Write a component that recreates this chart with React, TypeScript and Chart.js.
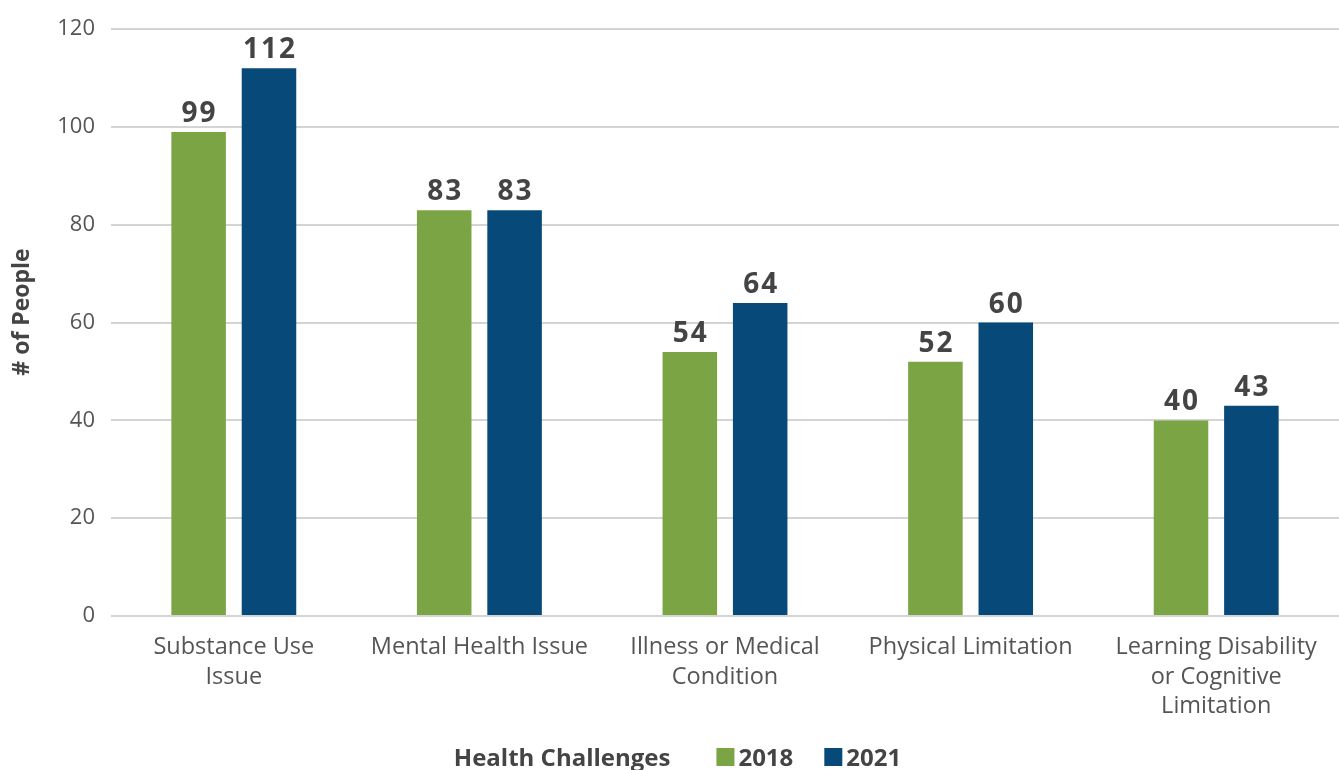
import React, { useEffect, useRef } from "react";
import { Chart, registerables } from "chart.js";

Chart.register(...registerables);

const categories: string[][] = [
  ["Substance Use", "Issue"],
  ["Mental Health Issue"],
  ["Illness or Medical", "Condition"],
  ["Physical Limitation"],
  ["Learning Disability", "or Cognitive", "Limitation"],
];
const values2018: number[] = [99, 83, 54, 52, 40];
const values2021: number[] = [112, 83, 64, 60, 43];
const seriesNames: string[] = ["2018", "2021"];
const yTicks: number[] = [0, 20, 40, 60, 80, 100, 120];
const xAxisTitle = "Health Challenges";
const yAxisTitle = "# of People";

const GREEN = "#7BA445";
const BLUE = "#074A7A";
const FONT = "'Open Sans', 'Noto Sans', sans-serif";
const TICK_COLOR = "#555555";
const LABEL_COLOR = "#444444";

const dataLabelPlugin = {
  id: "dataLabels",
  afterDatasetsDraw(chart: any) {
    const ctx = chart.ctx;
    ctx.save();
    ctx.font = `bold 28px ${FONT}`;
    (ctx as any).letterSpacing = "2px";
    ctx.fillStyle = LABEL_COLOR;
    ctx.textAlign = "center";
    ctx.textBaseline = "alphabetic";
    chart.data.datasets.forEach((ds: any, i: number) => {
      const meta = chart.getDatasetMeta(i);
      meta.data.forEach((bar: any, j: number) => {
        ctx.fillText(String(ds.data[j]), bar.x + 1, bar.y - 10);
      });
    });
    ctx.restore();
  },
};

const yTitlePlugin = {
  id: "yTitle",
  afterDraw(chart: any) {
    const ctx = chart.ctx;
    ctx.save();
    ctx.font = `bold 23px ${FONT}`;
    ctx.fillStyle = LABEL_COLOR;
    ctx.textAlign = "center";
    ctx.textBaseline = "middle";
    ctx.translate(22, 312);
    ctx.rotate(-Math.PI / 2);
    ctx.fillText(yAxisTitle, 0, 0);
    ctx.restore();
  },
};

const bottomLegendPlugin = {
  id: "bottomLegend",
  afterDraw(chart: any) {
    const ctx = chart.ctx;
    ctx.save();
    ctx.font = `bold 24px ${FONT}`;
    ctx.textBaseline = "alphabetic";
    ctx.textAlign = "left";
    const baseline = 766;
    const box = 18;
    const boxTop = 748;
    const titleW = ctx.measureText(xAxisTitle).width;
    const items = chart.data.datasets.map((ds: any) => ({
      text: ds.label,
      color: ds.backgroundColor,
      w: ctx.measureText(ds.label).width,
    }));
    const gapTitle = 46;
    const gapItem = 31;
    let total = titleW + gapTitle;
    items.forEach((it: any, i: number) => {
      total += box + 4 + it.w + (i < items.length - 1 ? gapItem : 0);
    });
    let x = 677.5 - total / 2;
    ctx.fillStyle = LABEL_COLOR;
    ctx.fillText(xAxisTitle, x, baseline);
    x += titleW + gapTitle;
    items.forEach((it: any) => {
      ctx.fillStyle = it.color;
      ctx.fillRect(x, boxTop, box, box);
      x += box + 4;
      ctx.fillStyle = LABEL_COLOR;
      ctx.fillText(it.text, x, baseline);
      x += it.w + gapItem;
    });
    ctx.restore();
  },
};

export default function App() {
  const canvasRef = useRef<HTMLCanvasElement | null>(null);

  useEffect(() => {
    document.body.style.margin = "0";
    const canvas = canvasRef.current;
    if (!canvas) return;
    const chart = new Chart(canvas, {
      type: "bar",
      data: {
        labels: categories,
        datasets: [
          {
            label: seriesNames[0],
            data: values2018,
            backgroundColor: GREEN,
            categoryPercentage: 0.573,
            barPercentage: 0.775,
          },
          {
            label: seriesNames[1],
            data: values2021,
            backgroundColor: BLUE,
            categoryPercentage: 0.573,
            barPercentage: 0.775,
          },
        ],
      },
      options: {
        responsive: false,
        animation: false,
        maintainAspectRatio: false,
        layout: { padding: { top: 27, right: -10, bottom: 40, left: 0 } },
        plugins: {
          legend: { display: false },
          tooltip: { enabled: false },
        },
        scales: {
          x: {
            grid: { display: false, drawTicks: false },
            border: { display: false },
            ticks: {
              color: TICK_COLOR,
              font: { family: FONT, size: 23.5, lineHeight: 1.25 },
              padding: 17,
              maxRotation: 0,
              autoSkip: false,
            },
            afterFit: (scale: any) => {
              scale.height = 114;
            },
          },
          y: {
            min: 0,
            max: 120,
            afterBuildTicks: (scale: any) => {
              scale.ticks = yTicks.map((v) => ({ value: v }));
            },
            grid: {
              color: "#D4D4D4",
              lineWidth: 2,
              drawTicks: false,
            },
            border: { display: false },
            ticks: {
              color: TICK_COLOR,
              font: { family: FONT, size: 22 },
              padding: 16,
            },
            afterFit: (scale: any) => {
              scale.width = 111;
            },
          },
        },
      },
      plugins: [dataLabelPlugin, yTitlePlugin, bottomLegendPlugin],
    });
    return () => chart.destroy();
  }, []);

  return (
    <div style={{ width: 1339, height: 770, background: "#fff" }}>
      <canvas ref={canvasRef} width={1339} height={770} style={{ display: "block" }} />
    </div>
  );
}
